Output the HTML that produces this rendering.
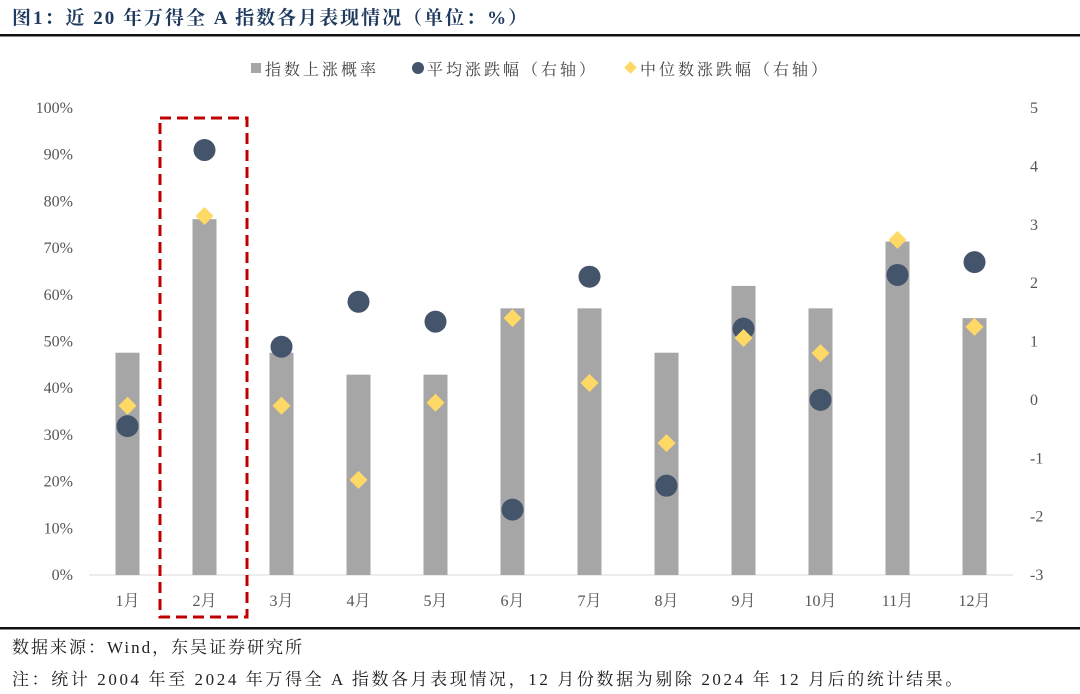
<!DOCTYPE html>
<html><head><meta charset="utf-8"><style>
html,body{margin:0;padding:0;background:#fff;}
svg{display:block;font-family:"Liberation Serif","Noto Serif CJK SC",serif;}
</style></head><body>
<svg id="chart" width="1080" height="694" viewBox="0 0 1080 694">
<text x="12" y="24" font-size="19" font-weight="bold" letter-spacing="2" fill="#1f3a5f">图1：近 20 年万得全 A 指数各月表现情况（单位：%）</text>
<rect x="0" y="34" width="1080" height="2.5" fill="#111"/>
<g>
<rect x="251" y="63" width="10" height="10" fill="#a6a6a6"/>
<text x="265" y="75" font-size="16" letter-spacing="3" fill="#444">指数上涨概率</text>
<circle cx="418" cy="68" r="6" fill="#44546a"/>
<text x="427" y="75" font-size="16" letter-spacing="3" fill="#444">平均涨跌幅（右轴）</text>
<rect x="626" y="63" width="9" height="9" fill="#ffd966" transform="rotate(45 630.5 67.5)"/>
<text x="640" y="75" font-size="16" letter-spacing="3" fill="#444">中位数涨跌幅（右轴）</text>
</g>
<g id="axes"></g>
<g id="marks"></g>
<rect x="160" y="118" width="87" height="499" fill="none" stroke="#c00000" stroke-width="3" stroke-dasharray="11,6"/>
<rect x="0" y="627" width="1080" height="2.5" fill="#111"/>
<text x="12" y="653" font-size="17" letter-spacing="2" fill="#222">数据来源：Wind，东吴证券研究所</text>
<text x="12" y="685" font-size="17" letter-spacing="2.6" fill="#222">注：统计 2004 年至 2024 年万得全 A 指数各月表现情况，12 月份数据为剔除 2024 年 12 月后的统计结果。</text>
</svg>
<script>
const categories=["1月","2月","3月","4月","5月","6月","7月","8月","9月","10月","11月","12月"];
const upProb=[47.6,76.2,47.6,42.9,42.9,57.1,57.1,47.6,61.9,57.1,71.4,55.0];
const meanChg=[-0.45,4.28,0.91,1.68,1.34,-1.88,2.11,-1.47,1.22,0.0,2.14,2.36];
const medianChg=[-0.1,3.15,-0.1,-1.37,-0.05,1.4,0.29,-0.74,1.06,0.8,2.74,1.25];
const leftTicks=[0,10,20,30,40,50,60,70,80,90,100];
const rightTicks=[-3,-2,-1,0,1,2,3,4,5];
const NS="http://www.w3.org/2000/svg";
const plotTop=108,plotBot=575,x0=89,step=77;
const yL=v=>plotBot-(v/100)*(plotBot-plotTop);
const yR=v=>plotBot-((v+3)/8)*(plotBot-plotTop);
const xC=i=>x0+step*(i+0.5);
function mk(tag,attrs,parent){const e=document.createElementNS(NS,tag);for(const k in attrs)e.setAttribute(k,attrs[k]);parent.appendChild(e);return e;}
const ax=document.getElementById('axes'),mg=document.getElementById('marks');
leftTicks.forEach(t=>{const e=mk('text',{x:73,y:yL(t)+5,'font-size':16,fill:'#555','text-anchor':'end'},ax);e.textContent=t+'%';

});
rightTicks.forEach(t=>{const e=mk('text',{x:1030,y:yR(t)+5,'font-size':16,fill:'#555'},ax);e.textContent=t;

});
const axl=mk('line',{x1:x0,x2:x0+step*12,y1:plotBot,y2:plotBot,stroke:'#d9d9d9','stroke-width':1},ax);


categories.forEach((c,i)=>{const e=mk('text',{x:xC(i),y:606,'font-size':16,fill:'#555','text-anchor':'middle'},ax);e.textContent=c;

});
upProb.forEach((v,i)=>{const b=mk('rect',{x:xC(i)-12,y:yL(v),width:24,height:plotBot-yL(v),fill:'#a6a6a6'},mg);

});
meanChg.forEach((v,i)=>{const c=mk('circle',{cx:xC(i),cy:yR(v),r:11,fill:'#44546a'},mg);

});
medianChg.forEach((v,i)=>{const x=xC(i),y=yR(v);const d=mk('polygon',{points:`${x},${y-9} ${x+9},${y} ${x},${y+9} ${x-9},${y}`,fill:'#ffd966'},mg);

});
</script>
</body></html>
